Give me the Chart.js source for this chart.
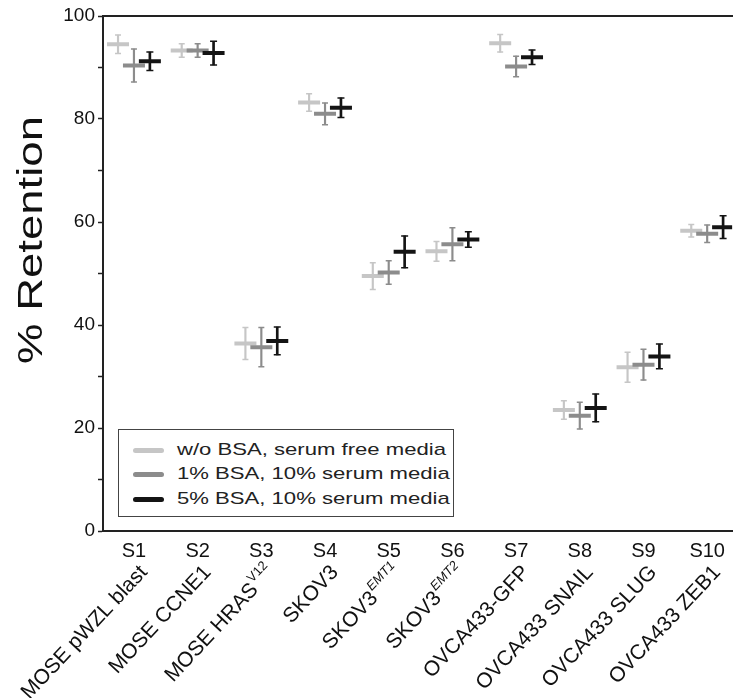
<!DOCTYPE html>
<html>
<head>
<meta charset="utf-8">
<script src="https://cdn.jsdelivr.net/npm/chart.js@4.4.1/dist/chart.umd.min.js"></script>
<style>
    html, body { margin: 0; padding: 0; background: #fff; overflow: hidden; }
    #wrap { position: relative; width: 733px; height: 698px; }
    #legend-box {
        position: absolute; left: 118px; top: 429px; width: 336px; height: 88px;
        box-sizing: border-box; border: 1.5px solid #444; background: #fff;
        font-family: "Liberation Sans", Arial, sans-serif; color: #222;
    }
    .leg-row { position: absolute; left: 0; width: 100%; height: 24px; }
    .leg-swatch { position: absolute; left: 14px; top: 10px; width: 31px; height: 4.5px; border-radius: 3px; }
    .leg-text {
        position: absolute; left: 58px; top: 0; line-height: 24px; font-size: 17px;
        white-space: nowrap; transform: scaleX(1.3); transform-origin: left center;
    }
</style>
</head>
<body>
<div id="wrap">
    <canvas id="retentionChart" width="733" height="698"></canvas>
    <div id="legend-box"></div>
</div>
<script>
const FONT = '"Liberation Sans", Arial, sans-serif';

// tick labels
const groupLabels = ['S1', 'S2', 'S3', 'S4', 'S5', 'S6', 'S7', 'S8', 'S9', 'S10'];
const cellNames = ['MOSE pWZL blast', 'MOSE CCNE1', 'MOSE HRAS', 'SKOV3', 'SKOV3', 'SKOV3',
    'OVCA433-GFP', 'OVCA433 SNAIL', 'OVCA433 SLUG', 'OVCA433 ZEB1'];
const cellSups = ['', '', 'V12', '', 'EMT1', 'EMT2', '', '', '', ''];

// series
const seriesNames = ['w/o BSA, serum free media', '1% BSA, 10% serum media', '5% BSA, 10% serum media'];
const seriesColors = ['#c6c6c6', '#8c8c8c', '#141414'];

const noBsaMean = [94.5, 93.3, 36.4, 83.2, 49.5, 54.3, 94.7, 23.5, 31.8, 58.3];
const noBsaErr  = [1.8, 1.3, 3.1, 1.7, 2.6, 1.9, 1.7, 1.8, 2.9, 1.2];
const bsa1Mean  = [90.4, 93.3, 35.7, 81.0, 50.2, 55.7, 90.2, 22.4, 32.3, 57.7];
const bsa1Err   = [3.2, 1.3, 3.8, 2.1, 2.3, 3.2, 2.0, 2.6, 3.0, 1.7];
const bsa5Mean  = [91.2, 92.8, 36.9, 82.2, 54.2, 56.6, 92.0, 23.9, 33.9, 59.0];
const bsa5Err   = [1.8, 2.3, 2.7, 1.9, 3.1, 1.5, 1.4, 2.7, 2.4, 2.2];

const allMeans = [noBsaMean, bsa1Mean, bsa5Mean];
const allErrs = [noBsaErr, bsa1Err, bsa5Err];
const seriesOffsets = [-0.25, 0, 0.25];

function meanPoints(j) {
    return allMeans[j].map((v, i) => ({ x: i + 1 + seriesOffsets[j], y: v }));
}

function whiskers(j) {
    return allMeans[j].map((v, i) => ({ x: i + 1 + seriesOffsets[j], y: [v - allErrs[j][i], v + allErrs[j][i]] }));
}

function caps(j) {
    const pts = [];
    allMeans[j].forEach((v, i) => {
        pts.push({ x: i + 1 + seriesOffsets[j], y: v - allErrs[j][i] });
        pts.push({ x: i + 1 + seriesOffsets[j], y: v + allErrs[j][i] });
    });
    return pts;
}

const datasets = [];
// means on top (drawn last)
for (let j = 2; j >= 0; j--) {
    datasets.push({
        label: seriesNames[j],
        data: meanPoints(j),
        pointStyle: 'line',
        pointRadius: 11,
        pointBorderWidth: 4,
        pointBorderColor: seriesColors[j],
        borderColor: seriesColors[j],
        order: 0
    });
}
for (let j = 2; j >= 0; j--) {
    datasets.push({
        type: 'bar',
        label: seriesNames[j] + ' err',
        data: whiskers(j),
        backgroundColor: seriesColors[j],
        barThickness: j == 2 ? 2 : 1.5,
        grouped: false,
        order: 1
    });
    datasets.push({
        label: seriesNames[j] + ' caps',
        data: caps(j),
        pointStyle: 'line',
        pointRadius: j == 2 ? 3.5 : 3,
        pointBorderWidth: 1.5,
        pointBorderColor: seriesColors[j],
        borderColor: seriesColors[j],
        order: 1
    });
}

// y axis title, a bit above the axis centre as in the figure
const yTitlePlugin = {
    id: 'yTitle',
    afterDraw(chart) {
        const c = chart.ctx;
        c.save();
        c.translate(42, 240);
        c.rotate(-Math.PI / 2);
        c.scale(1.3, 1);
        c.font = '35px ' + FONT;
        c.fillStyle = '#111';
        c.textAlign = 'center';
        c.textBaseline = 'alphabetic';
        c.fillText('% Retention', 0, 0);
        c.restore();
    }
};

// slanted cell line names under the S labels
const cellLabelPlugin = {
    id: 'cellLabels',
    afterDraw(chart) {
        const scale = chart.scales.x;
        const c = chart.ctx;
        const mainFont = '21px ' + FONT;
        c.save();
        c.fillStyle = '#111';
        c.textBaseline = 'middle';
        c.textAlign = 'left';
        cellNames.forEach((name, i) => {
            const sup = cellSups[i];
            const supFont = (i == 2 ? '' : 'italic ') + '13px ' + FONT;
            const px = scale.getPixelForValue(i + 1);
            c.save();
            c.translate(px + 10, 569);
            c.rotate(-47 * Math.PI / 180);
            c.font = mainFont;
            const mainW = c.measureText(name).width;
            let supW = 0;
            if (sup) {
                c.font = supFont;
                supW = c.measureText(sup).width + 1;
            }
            c.font = mainFont;
            c.fillText(name, -(mainW + supW), 0);
            if (sup) {
                c.font = supFont;
                c.fillText(sup, -supW + 1, -8);
            }
            c.restore();
        });
        c.restore();
    }
};

const ctx = document.getElementById('retentionChart').getContext('2d');
const retentionChart = new Chart(ctx, {
    type: 'scatter',
    data: { datasets: datasets },
    options: {
        responsive: false,
        animation: false,
        layout: { autoPadding: false, padding: { top: 16, left: 0, right: 0, bottom: 0 } },
        plugins: {
            legend: { display: false },
            tooltip: { enabled: false }
        },
        scales: {
            x: {
                type: 'linear',
                position: 'bottom',
                bounds: 'data',
                offset: false,
                min: 0.514,
                max: 10.392,
                afterBuildTicks: s => { s.ticks = groupLabels.map((_, i) => ({ value: i + 1 })); },
                ticks: {
                    callback: (v, i) => groupLabels[i],
                    autoSkip: false,
                    maxRotation: 0,
                    padding: 8,
                    color: '#111',
                    font: { size: 20, family: FONT }
                },
                grid: { offset: false, drawOnChartArea: false, drawTicks: false },
                border: { display: true, color: '#222', width: 2 },
                afterFit: s => { s.height = 167; }
            },
            xTop: {
                type: 'linear',
                position: 'top',
                min: 0,
                max: 1,
                ticks: { display: false },
                grid: { drawOnChartArea: false, drawTicks: false },
                border: { display: true, color: '#222', width: 2 },
                afterFit: s => { s.height = 0; }
            },
            y: {
                min: 0,
                max: 100,
                ticks: {
                    stepSize: 10,
                    autoSkip: false,
                    callback: v => (v % 20 === 0 ? v : ''),
                    padding: 3,
                    color: '#111',
                    font: { size: 19, family: FONT }
                },
                grid: { drawOnChartArea: false, drawTicks: true, tickLength: 5, tickColor: '#222', tickWidth: 1.5 },
                border: { display: true, color: '#222', width: 2 },
                afterFit: s => { s.width = 103; }
            }
        }
    },
    plugins: [yTitlePlugin, cellLabelPlugin]
});

// legend box inside the plot
const legendBox = document.getElementById('legend-box');
const rowTops = [8, 32, 57];
seriesNames.forEach((name, j) => {
    const row = document.createElement('div');
    row.className = 'leg-row';
    row.style.top = rowTops[j] + 'px';
    const sw = document.createElement('span');
    sw.className = 'leg-swatch';
    sw.style.background = seriesColors[j];
    const tx = document.createElement('span');
    tx.className = 'leg-text';
    tx.textContent = name;
    row.appendChild(sw);
    row.appendChild(tx);
    legendBox.appendChild(row);
});
</script>
</body>
</html>
